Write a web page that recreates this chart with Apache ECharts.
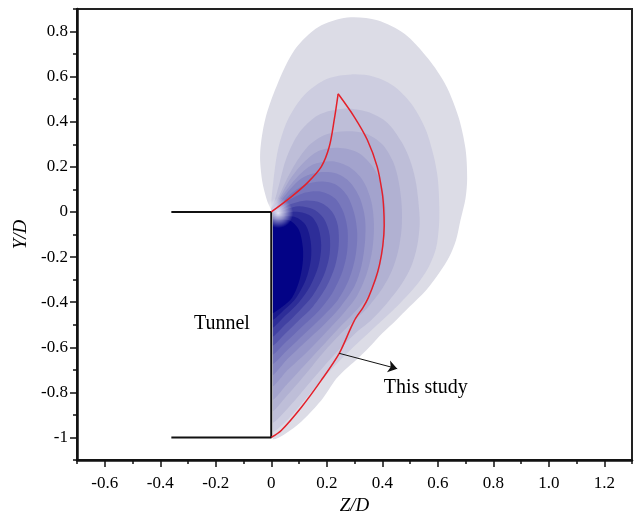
<!DOCTYPE html>
<html><head><meta charset="utf-8">
<script src="https://cdn.jsdelivr.net/npm/echarts@6/dist/echarts.min.js"></script>
<style>html,body{margin:0;padding:0;background:#fff}#c{width:635px;height:521px}</style>
</head><body><div id="c"></div>
<script>
// ---- ticks ----
const xMajorTicks = [-0.6,-0.4,-0.2,0,0.2,0.4,0.6,0.8,1.0,1.2];
const xTickLabels = ['-0.6','-0.4','-0.2','0','0.2','0.4','0.6','0.8','1.0','1.2'];
const xMinorTicks = [-0.7,-0.5,-0.3,-0.1,0.1,0.3,0.5,0.7,0.9,1.1,1.3];
const yMajorTicks = [-1,-0.8,-0.6,-0.4,-0.2,0,0.2,0.4,0.6,0.8];
const yTickLabels = ['-1','-0.8','-0.6','-0.4','-0.2','0','0.2','0.4','0.6','0.8'];
const yMinorTicks = [-1.1,-0.9,-0.7,-0.5,-0.3,-0.1,0.1,0.3,0.5,0.7,0.9];

// ---- filled contour levels [Z/D, Y/D], outermost first ----
const contour1 = [[0,-1.0],[0.083,-0.956],[0.18,-0.836],[0.234,-0.74],[0.275,-0.69],[0.317,-0.644],[0.353,-0.6],[0.4,-0.538],[0.45,-0.48],[0.497,-0.422],[0.558,-0.347],[0.605,-0.271],[0.641,-0.2],[0.666,-0.124],[0.682,-0.036],[0.7,0.06],[0.706,0.15],[0.7,0.28],[0.675,0.42],[0.63,0.56],[0.565,0.68],[0.48,0.79],[0.382,0.85],[0.274,0.862],[0.17,0.82],[0.085,0.72],[0.02,0.56],[-0.022,0.41],[-0.04,0.26],[-0.033,0.14],[-0.015,0.05],[0,0]];
const contour2 = [[0,-0.97],[0.06,-0.92],[0.13,-0.82],[0.2,-0.72],[0.27,-0.63],[0.33,-0.56],[0.4,-0.48],[0.46,-0.41],[0.52,-0.33],[0.565,-0.25],[0.594,-0.16],[0.605,-0.05],[0.605,0.05],[0.6,0.15],[0.585,0.25],[0.555,0.37],[0.505,0.48],[0.44,0.56],[0.37,0.6],[0.288,0.61],[0.2,0.59],[0.12,0.52],[0.06,0.41],[0.025,0.28],[0.008,0.14],[0,0.03]];
const contour3 = [[0,-0.93],[0.06,-0.87],[0.13,-0.77],[0.2,-0.67],[0.26,-0.59],[0.31,-0.53],[0.36,-0.48],[0.42,-0.4],[0.47,-0.32],[0.505,-0.24],[0.526,-0.15],[0.535,-0.05],[0.53,0.05],[0.52,0.14],[0.5,0.23],[0.47,0.31],[0.418,0.396],[0.346,0.444],[0.26,0.458],[0.17,0.43],[0.1,0.35],[0.055,0.24],[0.03,0.13],[0.012,0.05],[0,0.015]];
const contour4 = [[0,-0.88],[0.06,-0.81],[0.13,-0.71],[0.19,-0.62],[0.25,-0.54],[0.3,-0.48],[0.35,-0.42],[0.4,-0.34],[0.435,-0.26],[0.458,-0.17],[0.47,-0.07],[0.47,0.03],[0.46,0.13],[0.44,0.22],[0.4,0.3],[0.34,0.348],[0.27,0.358],[0.2,0.345],[0.14,0.3],[0.09,0.22],[0.05,0.13],[0.02,0.05],[0,0.01]];
const contour5 = [[0,-0.83],[0.06,-0.76],[0.12,-0.68],[0.18,-0.6],[0.24,-0.52],[0.3,-0.445],[0.35,-0.37],[0.385,-0.28],[0.4,-0.18],[0.41,-0.07],[0.41,0.03],[0.395,0.13],[0.36,0.21],[0.31,0.265],[0.24,0.285],[0.17,0.27],[0.11,0.21],[0.06,0.13],[0.025,0.05],[0,0.005]];
const contour6 = [[0,-0.77],[0.06,-0.7],[0.13,-0.62],[0.2,-0.53],[0.26,-0.45],[0.31,-0.37],[0.345,-0.27],[0.365,-0.16],[0.37,-0.05],[0.36,0.05],[0.33,0.14],[0.28,0.2],[0.22,0.225],[0.15,0.21],[0.09,0.15],[0.045,0.08],[0.015,0.02],[0,0.0]];
const contour7 = [[0,-0.72],[0.06,-0.65],[0.12,-0.58],[0.19,-0.5],[0.25,-0.42],[0.3,-0.33],[0.325,-0.24],[0.338,-0.13],[0.338,-0.03],[0.32,0.06],[0.285,0.13],[0.235,0.17],[0.17,0.175],[0.11,0.15],[0.06,0.09],[0.02,0.025],[0,0.0]];
const contour8 = [[0,-0.67],[0.06,-0.61],[0.12,-0.54],[0.18,-0.47],[0.24,-0.39],[0.28,-0.3],[0.303,-0.2],[0.31,-0.1],[0.3,-0.01],[0.275,0.07],[0.235,0.12],[0.18,0.135],[0.12,0.12],[0.065,0.075],[0.025,0.02],[0,0.0]];
const contour9 = [[0,-0.63],[0.05,-0.58],[0.11,-0.51],[0.17,-0.44],[0.22,-0.36],[0.255,-0.27],[0.273,-0.18],[0.275,-0.08],[0.26,0.0],[0.23,0.06],[0.18,0.09],[0.12,0.085],[0.06,0.05],[0.02,0.01],[0,-0.005]];
const contour10 = [[0,-0.59],[0.05,-0.54],[0.1,-0.48],[0.15,-0.42],[0.2,-0.33],[0.23,-0.24],[0.243,-0.15],[0.24,-0.06],[0.22,0.0],[0.18,0.04],[0.12,0.05],[0.06,0.03],[0.02,0.0],[0,-0.01]];
const contour11 = [[0,-0.55],[0.05,-0.5],[0.1,-0.44],[0.15,-0.37],[0.19,-0.28],[0.21,-0.19],[0.21,-0.1],[0.19,-0.03],[0.155,0.01],[0.1,0.025],[0.05,0.01],[0,-0.015]];
const contour12 = [[0,-0.51],[0.05,-0.46],[0.1,-0.4],[0.14,-0.33],[0.17,-0.24],[0.18,-0.15],[0.17,-0.07],[0.145,-0.02],[0.1,0.0],[0.05,-0.005],[0,-0.022]];
const contour13 = [[0,-0.475],[0.05,-0.43],[0.09,-0.38],[0.125,-0.3],[0.143,-0.21],[0.142,-0.13],[0.125,-0.06],[0.09,-0.025],[0.045,-0.02],[0,-0.03]];
const contour14 = [[0,-0.445],[0.04,-0.42],[0.075,-0.38],[0.1,-0.31],[0.113,-0.23],[0.114,-0.16],[0.1,-0.08],[0.07,-0.04],[0.03,-0.035],[0,-0.04]];
const contourLevels = [contour1,contour2,contour3,contour4,contour5,contour6,contour7,contour8,contour9,contour10,contour11,contour12,contour13,contour14];
const contourColors = ['#dcdce6','#cdcde0','#bebed8','#b1b1d2','#a3a3cd','#9696c8','#8787c2','#7878bc','#6969b6','#5555ac','#4141a2','#2d2d98','#19198e','#030386'];

// pale glow at the tunnel corner
const glowCenter = [0.025, -0.005];

// ---- "This study" boundary (red) ----
const studyOuter = [[0,-1.0],[0.036,-0.969],[0.108,-0.867],[0.18,-0.747],[0.245,-0.627],[0.288,-0.511],[0.305,-0.47],[0.33,-0.425],[0.35,-0.38],[0.375,-0.3],[0.39,-0.235],[0.402,-0.15],[0.407,-0.06],[0.405,0.02],[0.4,0.084],[0.382,0.2],[0.346,0.32],[0.299,0.422],[0.241,0.524]];
const studyInner = [[0.241,0.524],[0.227,0.409],[0.209,0.289],[0.18,0.2],[0.13,0.129],[0.072,0.067],[0,0]];

// ---- tunnel outline ----
const tunnelZ = [-0.36, 0, 0, -0.36];
const tunnelY = [0, 0, -1, -1];

// ---- annotations ----
const arrowFrom = [0.245, -0.627];
const arrowTo = [0.454, -0.695];
const annotationText = ['Tunnel', 'This study'];
const annotationZ = [-0.178, 0.557];
const annotationY = [-0.498, -0.778];

const FONT = "'Liberation Serif','Times New Roman',serif";
const pick = (ticks, labels) => v => { const i = ticks.findIndex(t => Math.abs(t - v) < 1e-6); return i >= 0 ? labels[i] : ''; };
const gridRect = {left: 77, right: 3, top: 9, bottom: 61};

const chart = echarts.init(document.getElementById('c'), null, {renderer: 'canvas'});
chart.setOption({
  animation: false,
  backgroundColor: '#fff',
  grid: [
    Object.assign({show: true, borderColor: '#222', borderWidth: 2, backgroundColor: 'transparent'}, gridRect),
    Object.assign({show: false}, gridRect)
  ],
  xAxis: [
    {type: 'value', gridIndex: 0, min: -0.7, max: 1.3, position: 'bottom',
     name: 'Z/D', nameLocation: 'middle', nameGap: 36,
     nameTextStyle: {fontFamily: FONT, fontStyle: 'italic', fontSize: 19, color: '#000'},
     axisLine: {show: true, onZero: false, lineStyle: {color: '#111', width: 2.5}},
     axisTick: {show: true, length: 7, customValues: xMajorTicks, lineStyle: {color: '#111', width: 1.5}},
     axisLabel: {customValues: xMajorTicks, formatter: pick(xMajorTicks, xTickLabels), margin: 15, fontFamily: FONT, fontSize: 17, color: '#000'},
     splitLine: {show: false}},
    {type: 'value', gridIndex: 1, min: -0.7, max: 1.3, position: 'bottom',
     axisLine: {show: false, onZero: false},
     axisTick: {show: true, length: 4, customValues: xMinorTicks, lineStyle: {color: '#111', width: 1.5}},
     axisLabel: {show: false}, splitLine: {show: false}}
  ],
  yAxis: [
    {type: 'value', gridIndex: 0, min: -1.1, max: 0.9, position: 'left',
     name: 'Y/D', nameLocation: 'middle', nameGap: 42, nameRotate: 90,
     nameTextStyle: {fontFamily: FONT, fontStyle: 'italic', fontSize: 19, color: '#000'},
     axisLine: {show: true, onZero: false, lineStyle: {color: '#111', width: 2.5}},
     axisTick: {show: true, length: 7, customValues: yMajorTicks, lineStyle: {color: '#111', width: 1.5}},
     axisLabel: {customValues: yMajorTicks, formatter: pick(yMajorTicks, yTickLabels), margin: 9, fontFamily: FONT, fontSize: 17, color: '#000'},
     splitLine: {show: false}},
    {type: 'value', gridIndex: 1, min: -1.1, max: 0.9, position: 'left',
     axisLine: {show: false, onZero: false},
     axisTick: {show: true, length: 4, customValues: yMinorTicks, lineStyle: {color: '#111', width: 1.5}},
     axisLabel: {show: false}, splitLine: {show: false}}
  ],
  series: [
    {type: 'custom', xAxisIndex: 0, yAxisIndex: 0, z: 1, silent: true,
     data: contourLevels.map(l => l[0]),
     renderItem: function (params, api) {
       const lvl = contourLevels[params.dataIndex];
       return {type: 'polygon', z2: params.dataIndex,
         shape: {points: lvl.map(p => api.coord(p)), smooth: 0.3},
         style: {fill: contourColors[params.dataIndex], stroke: null}};
     }},
    {type: 'custom', xAxisIndex: 0, yAxisIndex: 0, z: 2, silent: true,
     data: [glowCenter],
     renderItem: function (params, api) {
       const c = api.coord(glowCenter);
       return {type: 'circle', shape: {cx: c[0], cy: c[1], r: 15},
         style: {fill: new echarts.graphic.RadialGradient(0.5, 0.5, 0.5, [
           {offset: 0, color: 'rgba(255,255,255,0.85)'},
           {offset: 0.45, color: 'rgba(255,255,255,0.5)'},
           {offset: 1, color: 'rgba(255,255,255,0)'}])}};
     }},
    {type: 'custom', xAxisIndex: 0, yAxisIndex: 0, z: 2, silent: true,
     data: [[tunnelZ[0], tunnelY[0]]],
     renderItem: function (params, api) {
       const pts = tunnelZ.map((z, i) => api.coord([z, tunnelY[i]]));
       return {type: 'polygon', z2: 10, shape: {points: pts}, style: {fill: '#fff', stroke: '#fff', lineWidth: 3}};
     }},
    {type: 'line', xAxisIndex: 0, yAxisIndex: 0, z: 3, symbol: 'none', silent: true,
     data: tunnelZ.map((z, i) => [z, tunnelY[i]]),
     lineStyle: {color: '#111', width: 2}},
    {type: 'line', xAxisIndex: 0, yAxisIndex: 0, z: 3, symbol: 'none', smooth: 0.3, silent: true,
     data: studyOuter, lineStyle: {color: '#e4202a', width: 1.5}},
    {type: 'line', xAxisIndex: 0, yAxisIndex: 0, z: 3, symbol: 'none', smooth: 0.3, silent: true,
     data: studyInner, lineStyle: {color: '#e4202a', width: 1.5}},
    {type: 'lines', coordinateSystem: 'cartesian2d', xAxisIndex: 0, yAxisIndex: 0, z: 4, silent: true,
     symbol: ['none', 'arrow'], symbolSize: 9,
     data: [{coords: [arrowFrom, arrowTo]}],
     lineStyle: {color: '#111', width: 1, opacity: 1}},
    {type: 'scatter', xAxisIndex: 0, yAxisIndex: 0, z: 5, silent: true, symbolSize: 1,
     itemStyle: {color: 'rgba(0,0,0,0)', opacity: 1},
     data: annotationText.map((t, i) => ({name: t, value: [annotationZ[i], annotationY[i]]})),
     label: {show: true, position: 'inside', formatter: p => p.name, fontFamily: FONT, fontSize: 20, color: '#000', opacity: 1, textBorderWidth: 0}}
  ]
});
</script>
</body></html>
